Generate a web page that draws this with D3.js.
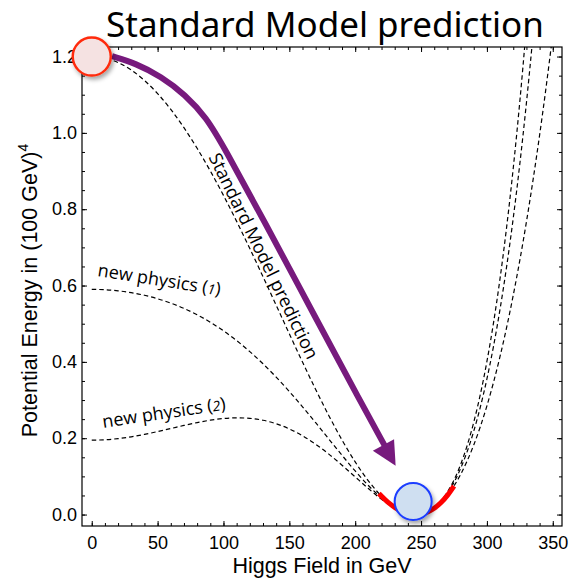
<!DOCTYPE html>
<html><head><meta charset="utf-8">
<script src="https://cdn.jsdelivr.net/npm/d3@7"></script>
<style>body{margin:0;background:#fff}svg{display:block}</style>
</head><body><svg id="c" width="570" height="582"></svg>
<script>
// ---- data ----
const phi  = [0,10,20,30,40,50,60,70,80,90,100,110,120,130,140,150,160,170,180,190,200,210,220,230,240,
              246,250,260,270,280,290,300,305,310,315,320,325,330,335,340,345,350];
const smV  = [1.2,1.19604,1.18419,1.16457,1.13739,1.10290,1.06147,1.01354,0.95961,0.90026,0.83618,0.76810,0.69686,
              0.62335,0.54856,0.47356,0.39948,0.32753,0.25903,0.19534,0.13792,0.08830,0.04810,0.01901,0.00279,
              0,0.00129,0.01644,0.05025,0.10480,0.18225,0.28485,0.34630,0.41491,0.49098,0.57483,0.66676,0.76709,
              0.87614,0.99424,1.12172,1.25892];
const np1V = [0.59,0.58906,0.58621,0.58138,0.57451,0.56542,0.55399,0.54004,0.52340,0.50388,0.48136,0.45572,0.42692,
              0.39497,0.36002,0.32234,0.28232,0.24055,0.19785,0.15528,0.11415,0.07612,0.04320,0.01779,0.00272,
              0,0.00131,0.01742,0.05548,0.12054,0.21836,0.35540,0.44086,0.53893,0.65063,0.77707,0.91940,1.07885,
              1.25670,1.45428,null,null];
const np2V = [0.195,0.19601,0.19899,0.20375,0.21001,0.21738,0.22537,0.23343,0.24093,0.24721,0.25160,0.25344,0.25212,
              0.24708,0.23794,0.22441,0.20645,0.18422,0.15824,0.12933,0.09876,0.06824,0.04003,0.01701,0.00268,
              0,0.00133,0.01805,0.05887,0.13074,0.24174,0.40108,0.50210,0.61923,0.75400,0.90803,1.08300,1.28073,
              1.50312,null,null,null];
const redPhi = [218,225,230,235,240,246,250,255,260,265,270,275];
const redV   = [0.05531,0.03206,0.01901,0.00917,0.00279,0,0.00129,0.00666,0.01644,0.03089,0.05025,0.07480];
const arrowPhi = [15.4,33.5,52.5,71.0,87.0,100.0,130.0,170.0,205.0,222.5];
const arrowV   = [1.201,1.182,1.148,1.100,1.040,0.965,0.775,0.515,0.290,0.180];
const headPhi  = [213.4,229.5,230.7];
const headV    = [0.167,0.197,0.128];
const xTicks = [0,50,100,150,200,250,300,350];
const yTicks = [0,0.2,0.4,0.6,0.8,1.0,1.2];
const xMinor = d3.range(0,360,10);
const yMinor = d3.range(0,1.22,0.05);
const startBall = [0,1.2];
const endBall = [244,0.034];

// ---- layout ----
const L=82,R=562,T=47,B=526;
const x = d3.scaleLinear().domain([-7.4,357]).range([L,R]);
const y = d3.scaleLinear().domain([-0.03,1.225]).range([B,T]);
const svg = d3.select("#c");
const defs = svg.append("defs");
defs.append("clipPath").attr("id","plot").append("rect").attr("x",L).attr("y",T).attr("width",R-L).attr("height",B-T);
const f = defs.append("filter").attr("id","sh").attr("x","-50%").attr("y","-50%").attr("width","200%").attr("height","200%");
f.append("feDropShadow").attr("dx",2).attr("dy",3).attr("stdDeviation",2.2).attr("flood-color","#000").attr("flood-opacity",0.35);

// title
svg.append("text").attr("x",325).attr("y",37).attr("text-anchor","middle")
  .style("font-family","'Noto Sans',sans-serif").style("font-size","35px").attr("fill","#000")
  .text("Standard Model prediction");

// axes
const tickFont = "'Liberation Sans',Arial,sans-serif";
function styleAxis(g){ g.select(".domain").remove(); g.selectAll("line").attr("stroke","#000").attr("stroke-width",1);
  g.selectAll("text").style("font-family",tickFont).style("font-size","18px").attr("fill","#000"); }
svg.append("g").attr("transform",`translate(0,${B})`).call(d3.axisBottom(x).tickValues(xMinor).tickSize(-3).tickFormat("")).call(styleAxis);
svg.append("g").attr("transform",`translate(0,${B})`).call(d3.axisBottom(x).tickValues(xTicks).tickSize(-5).tickPadding(10).tickFormat(d3.format("d"))).call(styleAxis);
svg.append("g").attr("transform",`translate(0,${T})`).call(d3.axisTop(x).tickValues(xMinor).tickSize(-3).tickFormat("")).call(styleAxis);
svg.append("g").attr("transform",`translate(0,${T})`).call(d3.axisTop(x).tickValues(xTicks).tickSize(-5).tickFormat("")).call(styleAxis);
svg.append("g").attr("transform",`translate(${L},0)`).call(d3.axisLeft(y).tickValues(yMinor).tickSize(-3).tickFormat("")).call(styleAxis);
svg.append("g").attr("transform",`translate(${L},0)`).call(d3.axisLeft(y).tickValues(yTicks).tickSize(-5).tickPadding(5).tickFormat(d3.format(".1f"))).call(styleAxis);
svg.append("g").attr("transform",`translate(${R},0)`).call(d3.axisRight(y).tickValues(yMinor).tickSize(-3).tickFormat("")).call(styleAxis);
svg.append("g").attr("transform",`translate(${R},0)`).call(d3.axisRight(y).tickValues(yTicks).tickSize(-5).tickFormat("")).call(styleAxis);
svg.append("rect").attr("x",L).attr("y",T).attr("width",R-L).attr("height",B-T).attr("fill","none").attr("stroke","#000").attr("stroke-width",1.2);

// axis titles
svg.append("text").attr("x",(L+R)/2).attr("y",573).attr("text-anchor","middle")
  .style("font-family",tickFont).style("font-size","21.5px").text("Higgs Field in GeV");
const yl = svg.append("text").attr("transform",`translate(37,${(T+B)/2+4}) rotate(-90)`).attr("text-anchor","middle")
  .style("font-family",tickFont).style("font-size","21.5px");
yl.append("tspan").text("Potential Energy in (100 GeV)");
yl.append("tspan").attr("dy",-9).style("font-size","14px").text("4");

// curves
const plot = svg.append("g").attr("clip-path","url(#plot)");
const line = d3.line().defined(d=>d[1]!==null).x(d=>x(d[0])).y(d=>y(d[1])).curve(d3.curveMonotoneX);
[smV,np1V,np2V].forEach(vals=>{
  plot.append("path").datum(phi.map((p,i)=>[p,vals[i]])).attr("d",line)
    .attr("fill","none").attr("stroke","#000").attr("stroke-width",1.2).attr("stroke-dasharray","4.5,3");
});
plot.append("path").datum(redPhi.map((p,i)=>[p,redV[i]])).attr("d",line)
  .attr("fill","none").attr("stroke","#ff0000").attr("stroke-width",5);

// purple arrow
const aLine = d3.line().x(d=>x(d[0])).y(d=>y(d[1])).curve(d3.curveBasis);
svg.append("path").datum(arrowPhi.map((p,i)=>[p,arrowV[i]])).attr("d",aLine)
  .attr("fill","none").attr("stroke","#771a7d").attr("stroke-width",6).attr("stroke-linecap","butt");
svg.append("path").datum(headPhi.map((p,i)=>[p,headV[i]]))
  .attr("d",d=>"M"+d.map(q=>x(q[0])+","+y(q[1])).join("L")+"Z").attr("fill","#771a7d");

// labels
const lblFont = "'Open Sans','Noto Sans',sans-serif";
function lbl(p,v,ang,main,num,size){
  const t = svg.append("text").attr("transform",`translate(${x(p)},${y(v)}) rotate(${ang})`)
    .style("font-family",lblFont).style("font-size",size+"px").attr("fill","#000");
  t.append("tspan").text(main);
  if(num){ t.append("tspan").text(" (");
    t.append("tspan").style("font-size",(size*0.78)+"px").style("font-style","italic").text(num);
    t.append("tspan").text(")"); }
}
lbl(4.0,0.625,9,"new physics","1",18);
lbl(8.8,0.227,-8.5,"new physics","2",18);
lbl(88.5,0.937,64,"Standard Model prediction",null,18.2);

// balls
svg.append("circle").attr("cx",x(startBall[0])).attr("cy",y(startBall[1])).attr("r",19)
  .attr("fill","#f5e2e2").attr("stroke","#ff2a0a").attr("stroke-width",2.4).attr("filter","url(#sh)");
svg.append("circle").attr("cx",x(endBall[0])).attr("cy",y(endBall[1])).attr("r",18.5)
  .attr("fill","#cfdff1").attr("stroke","#1a3cff").attr("stroke-width",2).attr("filter","url(#sh)");
</script></body></html>
